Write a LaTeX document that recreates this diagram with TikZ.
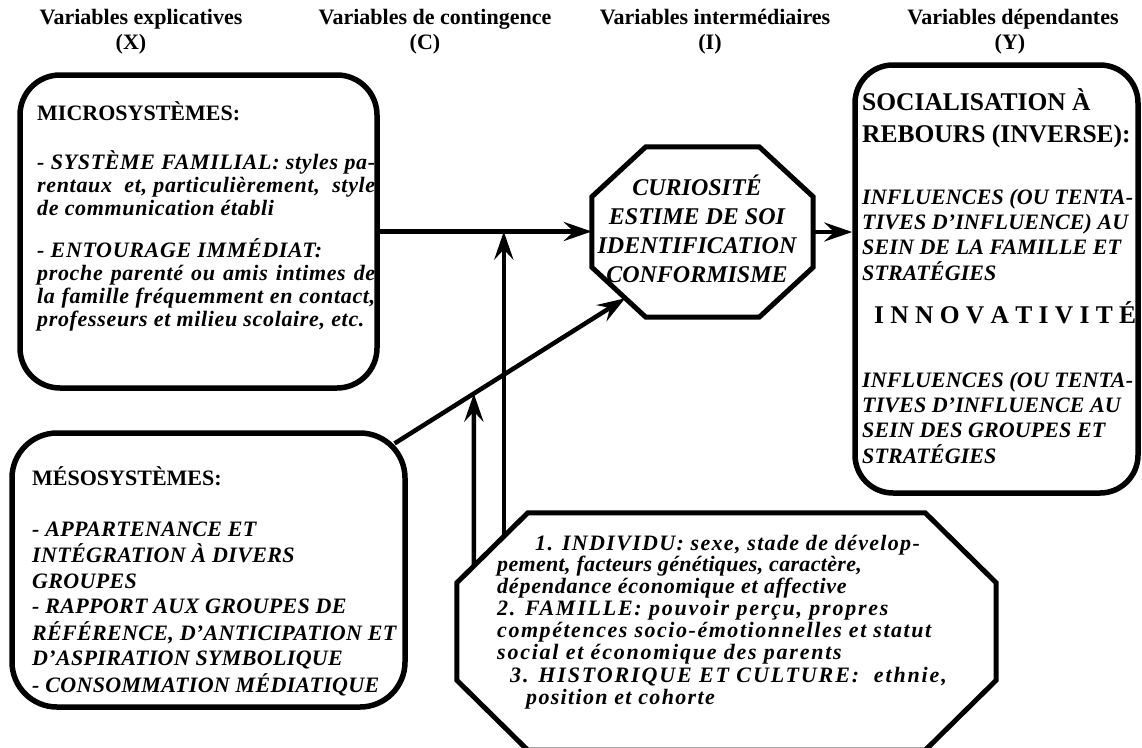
\documentclass[tikz,border=0pt]{standalone}
\usepackage{fontspec}
\setmainfont{Liberation Serif}
\usetikzlibrary{arrows.meta,calc}

% stacked lines, first baseline on the node's base anchor
\newcommand\stackl[1]{\begin{tabular}[t]{@{}l@{}}#1\end{tabular}}
\newcommand\stackc[1]{\begin{tabular}[t]{@{}c@{}}#1\end{tabular}}
\newcommand\jline[1]{\makebox[338pt][s]{#1}}
\newcommand\ls[2]{{\addfontfeature{LetterSpace=#1}#2}}

% octagonal outline around an empty frame node: #1 name, #2 horizontal cut, #3 vertical cut
\newcommand\octoframe[3]{%
  \coordinate (#1-1) at ($(#1.north west)+(#2,0)$);
  \coordinate (#1-2) at ($(#1.north east)+(-#2,0)$);
  \coordinate (#1-3) at ($(#1.north east)+(0,#3)$);
  \coordinate (#1-4) at ($(#1.south east)+(0,-#3)$);
  \coordinate (#1-5) at ($(#1.south east)+(-#2,0)$);
  \coordinate (#1-6) at ($(#1.south west)+(#2,0)$);
  \coordinate (#1-7) at ($(#1.south west)+(0,-#3)$);
  \coordinate (#1-8) at ($(#1.north west)+(0,#3)$);
  \draw[octo] (#1-1) -- (#1-2) -- (#1-3) -- (#1-4) -- (#1-5) -- (#1-6) -- (#1-7) -- (#1-8) -- cycle;}

\begin{document}
\begin{tikzpicture}[x=1pt,y=-1pt,
  box/.style={draw, line width=5.5pt, rounded corners=40pt, inner sep=0pt},
  frame/.style={inner sep=0pt},
  octo/.style={line width=5pt, line join=miter},
  link/.style={line width=4.5pt, -{Stealth[length=28pt,width=19pt,inset=10pt]}},
  hdr/.style={inner sep=0pt, anchor=base, font=\fontsize{22}{25}\selectfont\bfseries},
  headtxt/.style={inner sep=0pt, anchor=base west, font=\fontsize{22}{25}\selectfont\bfseries},
  bigtxt/.style={inner sep=0pt, anchor=base west, font=\fontsize{25.5}{32}\selectfont\bfseries},
  bodytxt/.style={inner sep=0pt, anchor=base west,
    font=\fontsize{22}{23}\selectfont\bfseries\itshape\addfontfeature{LetterSpace=3}},
  mesotxt/.style={inner sep=0pt, anchor=base west,
    font=\fontsize{22}{25.5}\selectfont\bfseries\itshape\addfontfeature{LetterSpace=1.5}},
  sidetxt/.style={inner sep=0pt, anchor=base west,
    font=\fontsize{22}{25}\selectfont\bfseries\itshape\addfontfeature{LetterSpace=0.5}},
  ctxtxt/.style={inner sep=0pt, anchor=base west,
    font=\fontsize{22}{21.5}\selectfont\bfseries\itshape},
  midtxt/.style={inner sep=0pt, anchor=base, font=\fontsize{24}{29}\selectfont\bfseries\itshape}
]
\useasboundingbox (0,0) rectangle (1142,747);
\fill[white] (0,0) rectangle (1142,747);
\begin{scope}
\clip (0,0) rectangle (1142,747);

% column headers
\node[hdr] (hX) at (141,24) {Variables explicatives};
\node[hdr] (hXl) at (131,49) {(X)};
\node[hdr] (hC) at (435,24) {Variables de contingence};
\node[hdr] (hCl) at (425,49) {(C)};
\node[hdr] (hI) at (715,24) {Variables intermédiaires};
\node[hdr] (hIl) at (710,49) {(I)};
\node[hdr] (hY) at (1013,24) {Variables dépendantes};
\node[hdr] (hYl) at (1010,49) {(Y)};

% boxes
\node[box, minimum width=357pt, minimum height=313pt] (micro) at (198.5,231.5) {};
\node[box, rounded corners=45pt, minimum width=393pt, minimum height=274pt] (meso) at (208.5,570) {};
\node[box, rounded corners=38pt, minimum width=283pt, minimum height=428pt] (dep) at (996.5,279) {};

% octagons
\node[frame, minimum width=221pt, minimum height=170pt] (inter) at (702.5,232) {};
\octoframe{inter}{54}{50}
\node[frame, minimum width=539pt, minimum height=237pt] (ctx) at (726.5,631.5) {};
\octoframe{ctx}{71}{70}

% microsystems
\node[headtxt] (microT) at (37,120) {MICROSYSTÈMES:};
\node[bodytxt] (microA) at (37,169) {\stackl{\jline{- SYSTÈME FAMILIAL: styles pa-}\\
  \jline{rentaux\ \ et, particulièrement,\ \ style}\\ de communication établi}};
\node[bodytxt] (microB) at (37,257) {\stackl{- ENTOURAGE IMMÉDIAT:\\
  \jline{proche parenté ou amis intimes de}\\ \jline{la famille fréquemment en contact,}\\
  professeurs et milieu scolaire, etc.}};

% mesosystems
\node[headtxt] (mesoT) at (32,485) {MÉSOSYSTÈMES:};
\node[mesotxt] (mesoA) at (32,536) {\stackl{- APPARTENANCE ET\\ INTÉGRATION À DIVERS\\ GROUPES\\
  - RAPPORT AUX GROUPES DE\\ RÉFÉRENCE, D’ANTICIPATION ET\\ D’ASPIRATION SYMBOLIQUE\\
  - CONSOMMATION MÉDIATIQUE}};

% intermediate variables
\node[midtxt] (interT) at (697,195) {\stackc{CURIOSITÉ\\ ESTIME DE SOI\\ IDENTIFICATION\\ CONFORMISME}};

% dependent variables
\node[bigtxt] (depT) at (862,110) {\stackl{SOCIALISATION À\\ REBOURS (INVERSE):}};
\node[sidetxt] (depA) at (862,204) {\stackl{INFLUENCES (OU TENTA-\\ TIVES D’INFLUENCE) AU\\
  SEIN DE LA FAMILLE ET\\ STRATÉGIES}};
\node[bigtxt] (depI) at (874,323) {\makebox[262pt][s]{I N N O V A T I V I T É}};
\node[sidetxt] (depB) at (862,387) {\stackl{INFLUENCES (OU TENTA-\\ TIVES D’INFLUENCE AU\\
  SEIN DES GROUPES ET\\ STRATÉGIES}};

% contingency variables
\node[ctxtxt] (ctxT) at (497,550) {\stackl{\hspace*{38pt}\ls{6}{1. INDIVIDU: sexe, stade de dévelop-}\\
  \ls{1.5}{pement, facteurs génétiques, caractère,}\\
  \ls{3.5}{dépendance économique et affective}\\
  \ls{8}{2. FAMILLE: pouvoir perçu, propres}\\
  \ls{7}{compétences socio-émotionnelles et statut}\\
  \ls{8}{social et économique des parents}\\[2pt]
  \hspace*{13pt}\ls{8.5}{3. HISTORIQUE ET CULTURE:\ \ ethnie,}\\
  \hspace*{29pt}\ls{6}{position et cohorte}}};

% connectors
\coordinate (mesoOut) at ($(meso.north east)+(-13.2,13.2)$);
\coordinate (interIn) at ($(inter-7)!0.62!(inter-6)$);
\coordinate (ctxA) at ($(ctx-1)!0.338!(ctx-8)$);
\coordinate (ctxB) at ($(ctx-1)!0.76!(ctx-8)$);
\coordinate (ctxBup) at ($(ctxB)+(0,-100)$);
\coordinate (hitB) at (intersection of ctxB--ctxBup and mesoOut--interIn);

\draw[link] (micro.east) -- (micro.east -| inter.west);
\draw[link] (inter.east) -- (inter.east -| dep.west);
\draw[link] (mesoOut) -- (interIn);
\draw[link] (ctxA) -- (ctxA |- micro.east);
\draw[link] (ctxB) -- (hitB);
\end{scope}
\end{tikzpicture}
\end{document}
